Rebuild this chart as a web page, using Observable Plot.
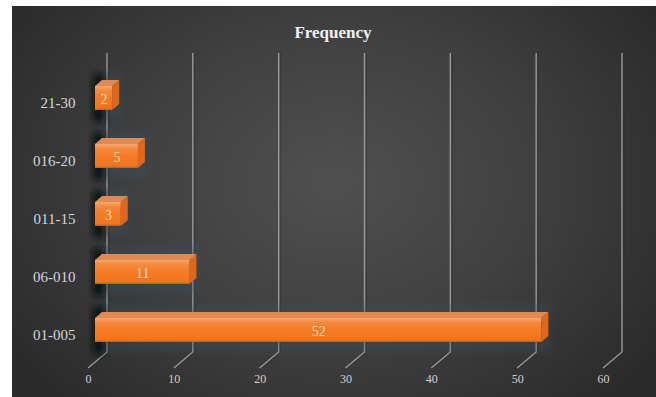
<!DOCTYPE html>
<html>
<head>
<meta charset="utf-8">
<script src="https://cdn.jsdelivr.net/npm/d3@7"></script>
<script src="https://cdn.jsdelivr.net/npm/@observablehq/plot@0.6"></script>
<style>
  body { margin: 0; background: #ffffff; }
  #chart { position: relative; width: 656px; height: 397px; overflow: hidden; background: #ffffff; }
  #panel {
    position: absolute; left: 12px; top: 6px; right: 0; bottom: 0;
    background: radial-gradient(ellipse 62% 78% at 50% 45%, #505050 0%, #404040 50%, #2a2a2a 100%);
  }
  #chart svg { position: absolute; left: 0; top: 0; }
</style>
</head>
<body>
<div id="chart"><div id="panel"></div></div>
<script>
// Frequency of each range
const categories = ["21-30", "016-20", "011-15", "06-010", "01-005"];
const frequencies = [2, 5, 3, 11, 52];
const xTicks = [0, 10, 20, 30, 40, 50, 60];
const title = "Frequency";

const rows = categories.map((c, i) => ({range: c, count: frequencies[i]}));

// 3D look: box extrusion, back wall and floor offsets (pixels)
const DX = 7, DY = -6;
const WALL_X = 12;
const FLOOR_X = -7, FLOOR_Y = 16;
const SERIF = "'Liberation Serif', 'DejaVu Serif', serif";

function bandwidthOf(scale) {
  if (typeof scale.bandwidth === "function") return scale.bandwidth();
  if (typeof scale.bandwidth === "number") return scale.bandwidth;
  return 24;
}

// back-wall gridlines with their slanted floor segment
function gridRender(index, scales, values, dims) {
  const g = d3.create("svg:g");
  const top = dims.marginTop, bottom = dims.height - dims.marginBottom;
  for (const i of index) {
    const x = scales.x(xTicks[i]);
    g.append("path")
      .attr("d", `M${x + WALL_X + 2},${top}V${bottom}L${x + FLOOR_X + 2},${bottom + FLOOR_Y}`)
      .attr("fill", "none").attr("stroke", "#262626").attr("stroke-opacity", 0.35).attr("stroke-width", 1);
    g.append("path")
      .attr("d", `M${x + WALL_X},${top}V${bottom}L${x + FLOOR_X},${bottom + FLOOR_Y}`)
      .attr("fill", "none").attr("stroke", "#9a9a9a").attr("stroke-width", 1.4);
  }
  return g.node();
}

// shadows cast by the boxes on the left wall and the floor
function shadowRender(index, scales, values) {
  const bw = bandwidthOf(scales.y);
  const g = d3.create("svg:g");
  const defs = g.append("defs");
  defs.append("filter").attr("id", "soft").attr("x", "-50%").attr("y", "-50%").attr("width", "200%").attr("height", "200%")
    .append("feGaussianBlur").attr("stdDeviation", 3);
  for (const i of index) {
    const x0 = values.x1[i], x1 = values.x2[i], y0 = values.y[i];
    g.append("rect").attr("x", x0 + 2).attr("y", y0 + DY - 8).attr("width", x1 - x0 + DX).attr("height", bw - DY + 18)
      .attr("fill", "#3b5366").attr("opacity", 0.3).attr("filter", "url(#soft)");
    g.append("rect").attr("x", x0 - 2).attr("y", y0 - 12).attr("width", 11).attr("height", bw + 24)
      .attr("fill", "#05080d").attr("opacity", 0.85).attr("filter", "url(#soft)");
  }
  return g.node();
}

// extruded orange boxes
function boxRender(index, scales, values) {
  const bw = bandwidthOf(scales.y);
  const g = d3.create("svg:g");
  const defs = g.append("defs");
  const grad = defs.append("linearGradient").attr("id", "front").attr("x1", 0).attr("y1", 0).attr("x2", 0).attr("y2", 1);
  grad.append("stop").attr("offset", "0%").attr("stop-color", "#f7a772");
  grad.append("stop").attr("offset", "18%").attr("stop-color", "#f58a3e");
  grad.append("stop").attr("offset", "50%").attr("stop-color", "#f57b24");
  grad.append("stop").attr("offset", "90%").attr("stop-color", "#f07620");
  grad.append("stop").attr("offset", "100%").attr("stop-color", "#c85d16");
  for (const i of index) {
    const x0 = values.x1[i], x1 = values.x2[i], y0 = values.y[i], y1 = y0 + bw;
    g.append("path")
      .attr("d", `M${x1},${y0}L${x1 + DX},${y0 + DY}V${y1 + DY}L${x1},${y1}Z`)
      .attr("fill", "#e0661a");
    g.append("path")
      .attr("d", `M${x0},${y0}L${x0 + DX},${y0 + DY}H${x1 + DX}L${x1},${y0}Z`)
      .attr("fill", "#e08a52");
    g.append("rect").attr("x", x0).attr("y", y0).attr("width", x1 - x0).attr("height", bw)
      .attr("fill", "url(#front)");
  }
  return g.node();
}

const chart = Plot.plot({
  width: 656,
  height: 397,
  marginLeft: 95,
  marginRight: 46,
  marginTop: 53,
  marginBottom: 45,
  style: {background: "transparent", overflow: "visible"},
  x: {domain: [0, 60], axis: null},
  y: {domain: categories, range: [84, 343], paddingInner: 0.59, paddingOuter: 0, axis: null},
  marks: [
    Plot.ruleX(xTicks, {x: d => d, render: gridRender}),
    Plot.barX(rows, {x: "count", y: "range", render: shadowRender}),
    Plot.barX(rows, {x: "count", y: "range", render: boxRender}),
    Plot.text(rows, {
      x: d => d.count / 2, y: "range", text: d => String(d.count),
      fill: "#fcd9c0", fontSize: 14, fontFamily: SERIF, dy: 1
    }),
    Plot.text(categories, {
      y: d => d, text: d => d, frameAnchor: "left", textAnchor: "end",
      dx: -20, dy: 5, fill: "#d6d6d6", fontSize: 15, fontFamily: SERIF
    }),
    Plot.text(xTicks, {
      x: d => d, text: d => String(d), frameAnchor: "bottom",
      dx: FLOOR_X, dy: 30, fill: "#d0d0d0", fontSize: 12, fontFamily: SERIF
    }),
    Plot.text([title], {
      frameAnchor: "top", text: d => d, dx: -20, dy: -28,
      fill: "#f2f2f2", fontSize: 17, fontWeight: "bold", fontFamily: SERIF
    })
  ]
});

document.getElementById("chart").appendChild(chart);
</script>
</body>
</html>
